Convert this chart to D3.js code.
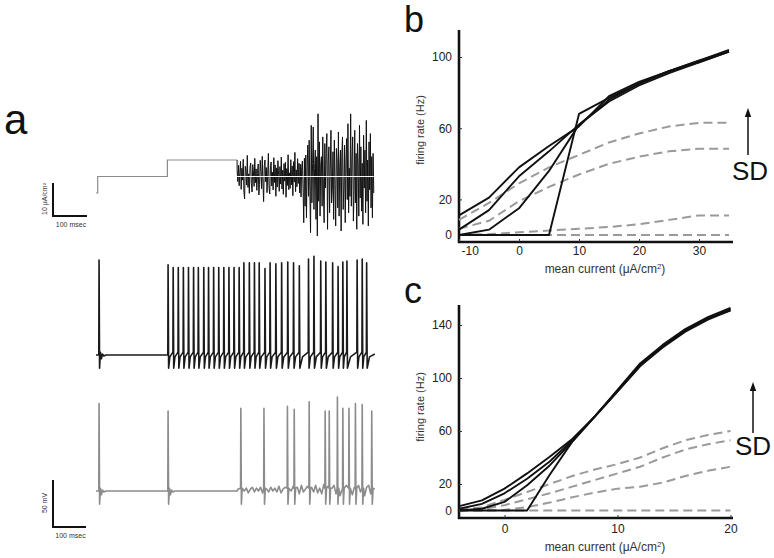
<!DOCTYPE html>
<html><head><meta charset="utf-8">
<script src="https://cdn.jsdelivr.net/npm/d3@7"></script>
<style>
html,body{margin:0;padding:0;background:#fff;}
svg{display:block;font-family:"Liberation Sans",Arial,Helvetica,sans-serif;}
</style></head>
<body>
<svg id="fig" width="774" height="558"></svg>
<script>
// ---------------- DATA ----------------
// Panel a: input current (μA/cm²), steps then noisy input
const stepTimes = [0, 5, 5, 210, 210, 415];          // ms
const stepLevels = [0, 0, 5, 5, 10, 10];              // μA/cm²
const noiseStart = 415, noiseDt = 2, noiseMean = 5;   // ms, ms, μA/cm²
const noiseValues = [
  2.1,-1.5,3.4,-2.8,1.2,4.6,-3.9,2.5,-1.1,5.2,
  -4.4,-6.8,3.1,1.8,-2.6,6.4,-3.3,0.8,-5.1,2.9,
  4.1,-2.2,-4.7,3.6,1.4,-3.0,5.5,-1.9,2.3,-4.2,
  0.9,3.8,-5.6,-2.4,4.9,1.6,-3.7,6.1,-2.0,-7.6,
  3.3,5.0,-1.6,2.7,-4.9,0.7,7.0,-3.4,-5.3,2.2,
  4.4,-2.9,1.3,-4.1,5.7,-1.8,3.5,-6.0,2.6,-3.2,
  4.8,0.6,-4.5,3.0,-2.3,5.9,-3.8,1.9,-5.4,3.9,
  -1.4,4.3,-6.3,2.4,-2.7,6.6,-4.0,1.1,-3.6,5.1,
  -2.5,3.2,-5.8,4.5,-1.7,7.3,-4.6,2.0,-3.1,5.4,
  -2.1,4.0,-5.0,3.7,-6.2,2.8,4.7,-3.5,
  -14.0,5.5,-9.0,6.5,-12.5,3.0,9.5,-6.0,11.0,-4.5,
  -17.0,15.5,-8.0,4.0,15.0,-10.0,2.5,8.0,-13.0,6.0,
  -18.0,19.0,-7.5,10.5,-12.0,3.5,6.0,-9.0,12.0,-5.0,
  -14.0,10.0,-3.5,7.0,13.0,-16.0,4.5,9.0,-11.0,2.0,
  14.0,-8.0,-4.0,7.5,-13.0,11.0,-2.5,-15.0,8.5,5.0,
  -9.5,13.5,-12.0,3.0,8.0,-16.5,6.5,12.0,-10.0,-3.0,
  9.5,-14.0,4.0,11.5,-7.0,16.0,-11.0,2.5,-6.0,19.0,
  -9.0,5.5,12.0,-13.5,-4.5,14.0,-8.0,7.0,-16.0,10.0,
  3.5,-12.0,15.5,-6.5,9.0,-10.5,4.0,-14.5,12.5,-3.5,
  8.0,-11.0,17.0,-7.5,5.0,-15.0,10.5,-4.0,13.0,-9.5,
  6.0,-12.5,7.0,-5.0];

// Panel a: black voltage trace (spike times ms, peak mV)
const blackSpikeTimes = [9,
  212,227,242,257,272,287,301,317,331,346,361,376,391,406,421,435,451,466,480,497,
  512,529,546,564,581,598,625,641,661,676,696,712,726,738,768,783,796];
const blackSpikePeaks = [36,
  31,28,28,28,28,28,28,28,28,28,28,28,28,28,28,33,33,33,33,27,
  33,32,33,34,33,30,37,40,35,34,33,29,34,35,36,37,33];
// Panel a: gray voltage trace
const graySpikeTimes = [9, 212, 426, 494, 563, 583, 627, 674, 686, 710, 726, 744, 763, 783, 811];
const graySpikePeaks = [28, 20, 23, 23, 25, 22, 30, 20, 20, 35, 23, 23, 28, 27, 20];
const restV = -65, troughV = -79, preV = -62;
const ahpShape = [[1.5,-79],[4,-62],[7,-69],[10,-64],[14,-66],[20,-65]]; // offset ms, mV
const grayNoiseStart = 418, grayNoiseDt = 6;
const grayNoise = [1,-2,3,-1,2,-3,1,3,-2,2,-1,3,-3,2,1,-2,3,-1,2,-2,4,-3,1,3,-4,2,-1,4,-2,3,
  -4,5,-2,1,4,-5,3,-2,5,-3,2,-4,6,-3,4,-5,2,5,-4,3,-6,4,-2,5,-3,6,-5,3,-4,5,-2,4,-6,3,5,-4,6,-3];

// Panel b: firing rate vs mean current
const bCurrent = [-10,-5,0,5,10,15,20,25,30,35];
const bSolid = [
  [11,21,38,50,61,78,86,92,98,104],
  [3,14,33,47,62,76,85,92,97,103],
  [0,3,15,36,62,75,84,91,97,103],
  [0,0,0,0,68,77,85,92,98,103]];
const bDashed = [
  [8.5,18,29,38,45,52,57,61,63,63],
  [3.5,8,19,27,34,40,44,47,48.5,48.5],
  [0,0.5,1.5,2.5,3.5,4.5,6,8.5,11,11],
  [0,0,0,0,0,0,0,0,0,0]];
const bXTicks = [-10,0,10,20,30];
const bYTicks = [0,20,60,100];

// Panel c
const cCurrent = [-4,-2,0,2,4,6,8,10,12,14,16,18,20];
const cSolid = [
  [3.3,7.6,16.5,28,40.5,54,71,91,111,125,137,146,153],
  [1.3,5,13,24,37,53,71,90,110,124,136,145,152],
  [0,1.3,6.5,19,34,52,71,90,109,124,136,145,151],
  [0,0,0,0,27,52,71,90,109,123,135,144,151]];
const cDashed = [
  [0.5,2.5,8,14,20,26,31,35,40,47,53,57,60],
  [0,1,4,8.5,13,18,23,28,33,40,46,50,53],
  [0,0,0.5,2.5,6,10,13.5,16.5,18,21,26,30,33],
  [0,0,0,0,0,0,0,0,0,0,0,0,0]];
const cXTicks = [0,10,20];
const cYTicks = [0,20,60,100,140];

// ---------------- DRAW ----------------
const svg = d3.select("#fig");
const GRAY = "#8c8c8c", DASH = "#9a9a9a";

// ===== Panel a =====
const xA = d3.scaleLinear().domain([0, 820]).range([96, 374.8]);
const yI = d3.scaleLinear().domain([0, 10]).range([193, 160]);
const yV1 = d3.scaleLinear().domain([-65, 35]).range([355, 261]);
const yV2 = d3.scaleLinear().domain([-65, 35]).range([491, 397]);

svg.append("text").attr("x", 4).attr("y", 134).attr("font-size", 42).attr("fill", "#111").text("a");

// current steps
const stepPts = stepTimes.map((t, i) => [t, stepLevels[i]]);
svg.append("path").datum(stepPts)
  .attr("d", d3.line().x(d => xA(d[0])).y(d => yI(d[1])))
  .attr("fill", "none").attr("stroke", GRAY).attr("stroke-width", 1.2);
// noise
const noisePts = [[noiseStart, 10]].concat(noiseValues.map((v, i) => [noiseStart + i * noiseDt, noiseMean + v]));
svg.append("path").datum(noisePts)
  .attr("d", d3.line().x(d => xA(d[0])).y(d => yI(d[1])))
  .attr("fill", "none").attr("stroke", "#111").attr("stroke-width", 1).attr("stroke-linejoin", "miter");
svg.append("line")
  .attr("x1", xA(noiseStart)).attr("x2", xA(noiseStart + (noiseValues.length - 1) * noiseDt))
  .attr("y1", yI(noiseMean)).attr("y2", yI(noiseMean))
  .attr("stroke", "#fff").attr("stroke-width", 1);

// voltage trace builder (black)
function buildTrace(times, peaks) {
  const pts = [[0, restV]];
  for (let i = 0; i < times.length; i++) {
    const ts = times[i], next = times[i + 1];
    const prev = times[i - 1];
    const isolated = (prev === undefined || ts - prev > 60);
    pts.push([ts - 0.8, isolated ? restV : preV]);
    pts.push([ts, peaks[i]]);
    const gap = next === undefined ? 820 - ts : next - ts;
    if (gap > 60) {
      ahpShape.forEach(a => pts.push([ts + a[0], a[1]]));
      if (next === undefined) pts.push([820, restV]);
    } else {
      pts.push([ts + 1.6, troughV]);
      pts.push([ts + gap * 0.35, -67]);
      if (next === undefined) pts.push([820, -64]);
    }
  }
  pts.sort((a, b) => a[0] - b[0]);
  return pts;
}

const blackPts = buildTrace(blackSpikeTimes, blackSpikePeaks);
svg.append("path").datum(blackPts)
  .attr("d", d3.line().x(d => xA(d[0])).y(d => yV1(d[1])))
  .attr("fill", "none").attr("stroke", "#1a1a1a").attr("stroke-width", 1.6).attr("stroke-linejoin", "round");

// gray: noise only after noise onset
const grayPts = (function () {
  const pts = [[0, restV]];
  const t = graySpikeTimes, p = graySpikePeaks;
  for (let i = 0; i < t.length; i++) {
    const ts = t[i], next = t[i + 1] === undefined ? 820 : t[i + 1];
    pts.push([ts - 0.8, t[i] < noiseStart ? restV : preV]);
    pts.push([ts, p[i]]);
    pts.push([ts + 1.6, troughV]);
    if (ts < noiseStart) {
      ahpShape.slice(1).forEach(a => pts.push([ts + a[0], a[1]]));
      const end = next < noiseStart ? next - 0.8 : noiseStart;
      pts.push([end, restV]);
      if (next > noiseStart) {
        grayNoise.forEach((v, k) => {
          const tt = grayNoiseStart + k * grayNoiseDt;
          if (tt < next - 2) pts.push([tt, restV + 1 + v]);
        });
      }
    } else {
      pts.push([ts + 4, -62]);
      grayNoise.forEach((v, k) => {
        const tt = grayNoiseStart + k * grayNoiseDt;
        if (tt > ts + 6 && tt < next - 2) pts.push([tt, restV + 1 + v]);
      });
      if (i === t.length - 1) pts.push([820, -63]);
    }
  }
  pts.sort((a, b) => a[0] - b[0]);
  return pts;
})();
svg.append("path").datum(grayPts)
  .attr("d", d3.line().x(d => xA(d[0])).y(d => yV2(d[1])))
  .attr("fill", "none").attr("stroke", GRAY).attr("stroke-width", 1.6).attr("stroke-linejoin", "round");

// scale bars
function scaleBar(x, yTop, yBot, xRight, vLabel, yMid, hy) {
  svg.append("path").attr("d", `M${x},${yTop}V${yBot}H${xRight}`)
    .attr("fill", "none").attr("stroke", "#111").attr("stroke-width", 2);
  svg.append("text").attr("transform", `translate(${x - 6},${yMid}) rotate(-90)`)
    .attr("text-anchor", "middle").attr("font-size", 7).attr("fill", "#333").text(vLabel);
  svg.append("text").attr("x", (x + xRight) / 2 + 1).attr("y", hy)
    .attr("text-anchor", "middle").attr("font-size", 7).attr("fill", "#333").text("100 msec");
}
scaleBar(53, 183, 216, 87, "10 μA/cm²", 199, 227);
scaleBar(53, 480, 527, 86, "50 mV", 503, 538);

// ===== Panels b & c =====
function fiPanel(opt) {
  const g = svg.append("g");
  const x = d3.scaleLinear().domain(opt.xDom).range(opt.xRange);
  const y = d3.scaleLinear().domain([0, opt.yRef]).range(opt.yRange);
  const line = d3.line().x((d, i) => x(opt.current[i])).y(d => y(d));

  // axes lines
  g.append("line").attr("x1", opt.axisX).attr("x2", opt.axisX).attr("y1", opt.axisTop).attr("y2", opt.axisY + 1)
    .attr("stroke", "#111").attr("stroke-width", 2.6);
  g.append("line").attr("x1", opt.axisX - 1).attr("x2", opt.axisRight).attr("y1", opt.axisY).attr("y2", opt.axisY)
    .attr("stroke", "#111").attr("stroke-width", 2.6);

  const ya = d3.axisLeft(y).tickValues(opt.yTicks).tickFormat(d => String(d))
    .tickSizeInner(-3).tickSizeOuter(0).tickPadding(7);
  const yg = g.append("g").attr("transform", `translate(${opt.axisX},0)`).call(ya);
  yg.select(".domain").remove();
  yg.selectAll("line").attr("stroke", "#333").attr("stroke-width", 1);
  yg.selectAll("text").attr("font-size", 12).attr("fill", "#222").attr("font-family", null);

  const xa = d3.axisBottom(x).tickValues(opt.xTicks).tickFormat(d => String(d))
    .tickSizeInner(-3).tickSizeOuter(0).tickPadding(opt.xPad);
  const xg = g.append("g").attr("transform", `translate(0,${opt.axisY})`).call(xa);
  xg.select(".domain").remove();
  xg.selectAll("line").attr("stroke", "#333").attr("stroke-width", 1);
  xg.selectAll("text").attr("font-size", 12).attr("fill", "#222").attr("font-family", null)
    .attr("text-anchor", d => d === opt.xDom[0] ? "start" : "middle")
    .attr("x", d => d === opt.xDom[0] ? 2 : 0);

  // dashed (behind) then solid
  opt.dashed.forEach(s => g.append("path").datum(s).attr("d", line)
    .attr("fill", "none").attr("stroke", DASH).attr("stroke-width", 2).attr("stroke-dasharray", "9,5"));
  opt.solid.forEach(s => g.append("path").datum(s).attr("d", line)
    .attr("fill", "none").attr("stroke", "#111").attr("stroke-width", 1.9).attr("stroke-linejoin", "round"));

  // labels
  g.append("text").attr("transform", `translate(${opt.axisX - 35},${opt.yLabelY}) rotate(-90)`)
    .attr("text-anchor", "middle").attr("font-size", 11).attr("fill", "#333").text("firing rate (Hz)");
  const xl = g.append("text").attr("x", 605).attr("y", opt.xLabelY).attr("text-anchor", "middle")
    .attr("font-size", 12).attr("fill", "#333");
  xl.append("tspan").text("mean current (μA/cm");
  xl.append("tspan").attr("font-size", 8).attr("dy", -4).text("2");
  xl.append("tspan").attr("dy", 4).text(")");

  g.append("text").attr("x", 404).attr("y", opt.letterY).attr("font-size", 36).attr("fill", "#111").text(opt.letter);

  // SD arrow
  g.append("line").attr("x1", opt.arrowX).attr("x2", opt.arrowX).attr("y1", opt.arrowBot).attr("y2", opt.arrowTip + 6)
    .attr("stroke", "#111").attr("stroke-width", 1.5);
  g.append("path").attr("d", `M${opt.arrowX},${opt.arrowTip}L${opt.arrowX - 3.2},${opt.arrowTip + 9}L${opt.arrowX + 3.2},${opt.arrowTip + 9}Z`)
    .attr("fill", "#111");
  g.append("text").attr("x", opt.sdX).attr("y", opt.sdY).attr("text-anchor", "middle")
    .attr("font-size", 26).attr("fill", "#111").text("SD");
}

fiPanel({
  current: bCurrent, solid: bSolid, dashed: bDashed, xTicks: bXTicks, yTicks: bYTicks,
  xDom: [-10, 35], xRange: [459, 729], yRef: 100, yRange: [235, 57],
  axisX: 459, axisTop: 30, axisY: 242, axisRight: 733, xPad: 4,
  yLabelY: 130, xLabelY: 273, letter: "b", letterY: 32,
  arrowX: 748, arrowTip: 108, arrowBot: 155, sdX: 750, sdY: 180
});
fiPanel({
  current: cCurrent, solid: cSolid, dashed: cDashed, xTicks: cXTicks, yTicks: cYTicks,
  xDom: [-4, 20], xRange: [459.3, 730.5], yRef: 140, yRange: [510.5, 325],
  axisX: 459, axisTop: 305, axisY: 518, axisRight: 733, xPad: 6,
  yLabelY: 407, xLabelY: 551, letter: "c", letterY: 303,
  arrowX: 753, arrowTip: 382, arrowBot: 433, sdX: 753, sdY: 455
});
</script>
</body></html>
